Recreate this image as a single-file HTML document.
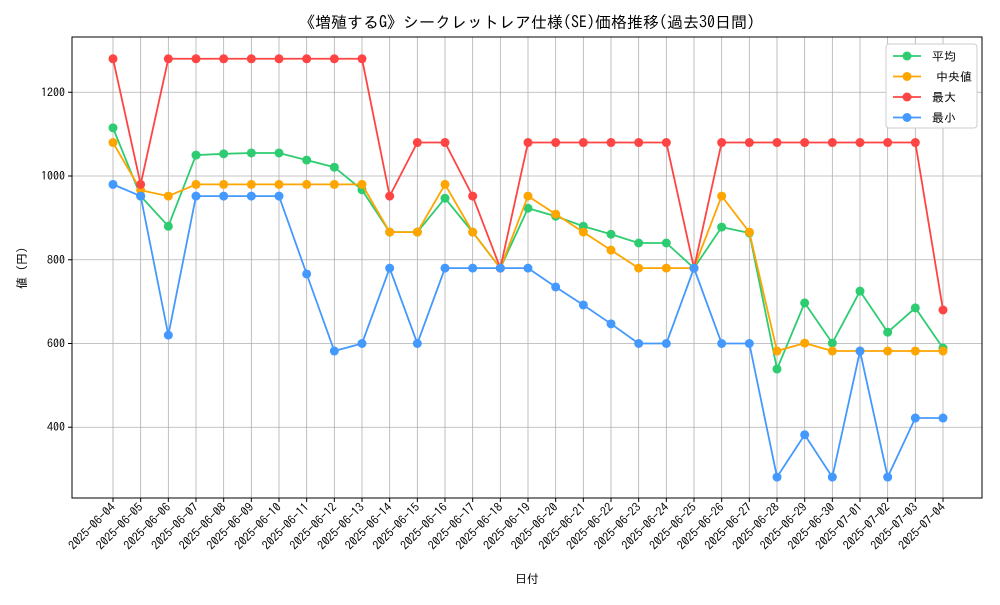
<!DOCTYPE html>
<html><head><meta charset="utf-8"><style>
body{margin:0;background:#fff;}
svg{font-family:"IPAGothic","Noto Sans CJK JP",sans-serif;}
</style></head><body>
<svg id="chart" width="1000" height="600"></svg>
<script>
const dates=["2025-06-04","2025-06-05","2025-06-06","2025-06-07","2025-06-08","2025-06-09","2025-06-10","2025-06-11","2025-06-12","2025-06-13","2025-06-14","2025-06-15","2025-06-16","2025-06-17","2025-06-18","2025-06-19","2025-06-20","2025-06-21","2025-06-22","2025-06-23","2025-06-24","2025-06-25","2025-06-26","2025-06-27","2025-06-28","2025-06-29","2025-06-30","2025-07-01","2025-07-02","2025-07-03","2025-07-04"];
const avgVals=[1115,952,880,1050,1053,1055,1055,1038,1021,967,866,866,947,866,780,923,904,880,861,840,840,780,878,864,539,697,601,725,627,685,589];
const medVals=[1080,966,952,980,980,980,980,980,980,980,866,866,980,866,780,952,909,866,823,780,780,780,952,866,582,601,582,582,582,582,582];
const maxVals=[1280,980,1280,1280,1280,1280,1280,1280,1280,1280,952,1080,1080,952,780,1080,1080,1080,1080,1080,1080,780,1080,1080,1080,1080,1080,1080,1080,1080,680];
const minVals=[980,952,620,952,952,952,952,766,582,600,780,600,780,780,780,780,735,692,647,600,600,780,600,600,281,382,281,582,281,422,422];
const yTicks=[400,600,800,1000,1200];
const seriesNames=["平均","中央値","最大","最小"];
const NS="http://www.w3.org/2000/svg";
const svg=document.getElementById('chart');
const L=72,R=982,T=37,B=498,yMin=231,yMax=1332;
const x=i=>113+i*(943-113)/(dates.length-1);
const y=v=>B-(v-yMin)/(yMax-yMin)*(B-T);
function mk(tag,attrs,parent){const e=document.createElementNS(NS,tag);for(const k in attrs)e.setAttribute(k,attrs[k]);(parent||svg).appendChild(e);return e;}
const grid=mk('g',{});


dates.forEach((d,i)=>{mk('line',{x1:x(i),x2:x(i),y1:T,y2:B,stroke:'#b0b0b0','stroke-width':0.8},grid);});
yTicks.forEach(v=>{mk('line',{x1:L,x2:R,y1:y(v),y2:y(v),stroke:'#b0b0b0','stroke-width':0.8},grid);});
const frame=mk('rect',{x:L,y:T,width:R-L,height:B-T,fill:'none',stroke:'#000','stroke-width':1});


yTicks.forEach(v=>{mk('line',{x1:L-4,x2:L,y1:y(v),y2:y(v),stroke:'#000'});
 const t=mk('text',{x:L-7,y:y(v)+4,'text-anchor':'end','font-size':12});t.textContent=v;
 
 });
dates.forEach((d,i)=>{mk('line',{x1:x(i),x2:x(i),y1:B,y2:B+4,stroke:'#000'});
 const t=mk('text',{x:x(i)+3,y:B+10,'text-anchor':'end','font-size':12,transform:`rotate(-45 ${x(i)+3} ${B+10})`});t.textContent=d;
 
 });
const colors=['#2ecc71','#ffa500','#ff4444','#4499ff'];
const allVals=[avgVals,medVals,maxVals,minVals];
const keys=['avg','median','max','min'];
allVals.forEach((vals,s)=>{
 const g=mk('g',{});
 
 
 mk('polyline',{points:vals.map((v,i)=>x(i)+','+y(v)).join(' '),fill:'none',stroke:colors[s],'stroke-width':1.8},g);
 vals.forEach((v,i)=>{const c=mk('circle',{cx:x(i),cy:y(v),r:4.5,fill:colors[s]},g);
  
  });
});
const lg=mk('g',{});


mk('rect',{x:886,y:44,width:91,height:84,fill:'#fff',stroke:'#ccc',rx:3},lg);
seriesNames.forEach((n,s)=>{const yy=56+s*20.5;
 mk('line',{x1:893,x2:921,y1:yy,y2:yy,stroke:colors[s],'stroke-width':1.8},lg);
 mk('circle',{cx:907,cy:yy,r:4.5,fill:colors[s]},lg);
 const t=mk('text',{x:(s==1?936:932),y:yy+4.5,'font-size':12},lg);t.textContent=n;
 
 });
const title=mk('text',{x:527,y:28,'text-anchor':'middle','font-size':16});
title.textContent='《増殖するG》シークレットレア仕様(SE)価格推移(過去30日間)';


const xt=mk('text',{x:527,y:583,'text-anchor':'middle','font-size':12});xt.textContent='日付';


const yt=mk('text',{x:26,y:268,'text-anchor':'middle','font-size':12,transform:'rotate(-90 26 268)'});yt.textContent='値 (円)';


</script>
</body></html>
